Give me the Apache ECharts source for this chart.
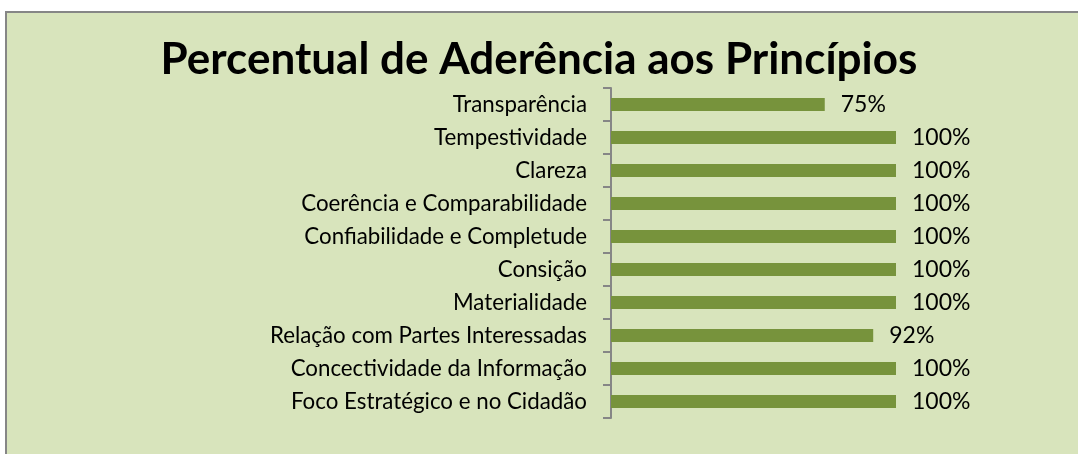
<!DOCTYPE html>
<html>
<head>
<meta charset="utf-8">
<script src="https://cdn.jsdelivr.net/npm/echarts@6/dist/echarts.min.js"></script>
<style>
html,body{margin:0;padding:0;background:#fff;}
#chart{width:1078px;height:454px;}
</style>
</head>
<body>
<div id="chart"></div>
<script>
const titleText = 'Percentual de Aderência aos Princípios';
const categories = [
  'Transparência',
  'Tempestividade',
  'Clareza',
  'Coerência e Comparabilidade',
  'Confiabilidade e Completude',
  'Consição',
  'Materialidade',
  'Relação com Partes Interessadas',
  'Concectividade da Informação',
  'Foco Estratégico e no Cidadão'
];
const values = [75, 100, 100, 100, 100, 100, 100, 92, 100, 100];

const FONT = 'Lato, "Open Sans", sans-serif';
const chart = echarts.init(document.getElementById('chart'), null, {renderer: 'canvas'});
chart.setOption({
  backgroundColor: '#ffffff',
  animation: false,
  graphic: [{
    type: 'rect',
    z: -100,
    silent: true,
    shape: {x: 6, y: 12, width: 1090, height: 460},
    style: {fill: '#d8e4bc', stroke: '#868686', lineWidth: 2}
  }],
  title: {
    text: titleText,
    left: 'center',
    top: 33,
    textStyle: {fontFamily: FONT, fontWeight: 'bold', fontSize: 44, color: '#000'}
  },
  grid: {left: 611, right: 182, top: 88, bottom: 36, containLabel: false},
  xAxis: {
    type: 'value', min: 0, max: 100, show: false
  },
  yAxis: {
    type: 'category',
    data: categories,
    inverse: true,
    axisLine: {show: true, lineStyle: {color: '#868686', width: 2}},
    axisTick: {show: true, length: 8, lineStyle: {color: '#868686', width: 2}},
    axisLabel: {fontFamily: FONT, fontSize: 22.3, color: '#000', margin: 24},
    splitLine: {show: false}
  },
  series: [{
    type: 'bar',
    data: values,
    barWidth: 13,
    itemStyle: {color: '#77933c'},
    label: {
      show: true, position: 'right', distance: 16,
      formatter: '{c}%',
      fontFamily: FONT, fontSize: 23, color: '#000'
    }
  }]
});
</script>
</body>
</html>
